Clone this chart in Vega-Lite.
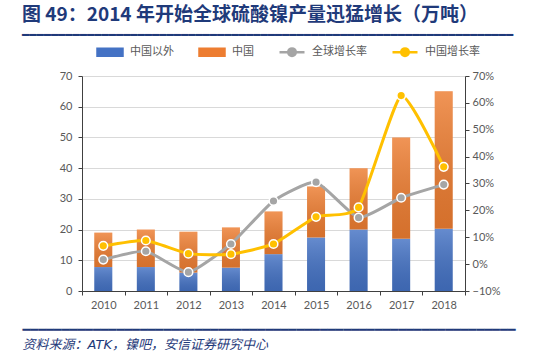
{
  "$schema": "https://vega.github.io/schema/vega-lite/v6.json",
  "width": 383,
  "height": 215,
  "autosize": {"type": "none"},
  "padding": {"left": 82, "top": 76, "right": 85, "bottom": 73},
  "background": "white",
  "config": {
    "view": {"stroke": null},
    "font": "Noto Sans CJK SC",
    "axis": {
      "labelFont": "Lato",
      "labelFontSize": 11,
      "labelColor": "#595959",
      "domainColor": "#404040",
      "tickColor": "#404040",
      "domainWidth": 1,
      "tickSize": 4,
      "labelOverlap": false,
      "labelFlush": false
    }
  },
  "title": {
    "text": "图 49：2014 年开始全球硫酸镍产量迅猛增长（万吨）",
    "subtitle": "━━━━━━━━━━━━━━━━━━━━━━━━━━━━━━━━━━━━━━━━━━━━━━━━━━━━━━━━━━━━━━━━━━━━",
    "anchor": "start",
    "frame": "group",
    "dx": -60,
    "offset": -3,
    "font": "Noto Sans CJK SC",
    "fontSize": 19,
    "fontWeight": "bold",
    "color": "#1F3A7A",
    "subtitleFont": "DejaVu Sans",
    "subtitleFontSize": 12,
    "subtitleColor": "#1F3A7A",
    "subtitlePadding": 5
  },
  "datasets": {
    "bars": [
      {"year": "2010", "series": "中国以外", "value": 7.8},
      {"year": "2010", "series": "中国", "value": 11.2},
      {"year": "2011", "series": "中国以外", "value": 7.8},
      {"year": "2011", "series": "中国", "value": 12.2},
      {"year": "2012", "series": "中国以外", "value": 6.0},
      {"year": "2012", "series": "中国", "value": 13.3},
      {"year": "2013", "series": "中国以外", "value": 7.6},
      {"year": "2013", "series": "中国", "value": 13.1},
      {"year": "2014", "series": "中国以外", "value": 12.0},
      {"year": "2014", "series": "中国", "value": 13.9},
      {"year": "2015", "series": "中国以外", "value": 17.4},
      {"year": "2015", "series": "中国", "value": 16.6},
      {"year": "2016", "series": "中国以外", "value": 20.0},
      {"year": "2016", "series": "中国", "value": 20.0},
      {"year": "2017", "series": "中国以外", "value": 17.0},
      {"year": "2017", "series": "中国", "value": 33.0},
      {"year": "2018", "series": "中国以外", "value": 20.3},
      {"year": "2018", "series": "中国", "value": 44.7}
    ],
    "rates": [
      {"year": "2010", "series": "全球增长率", "rate": 0.017},
      {"year": "2011", "series": "全球增长率", "rate": 0.048},
      {"year": "2012", "series": "全球增长率", "rate": -0.03},
      {"year": "2013", "series": "全球增长率", "rate": 0.075},
      {"year": "2014", "series": "全球增长率", "rate": 0.235},
      {"year": "2015", "series": "全球增长率", "rate": 0.305},
      {"year": "2016", "series": "全球增长率", "rate": 0.173},
      {"year": "2017", "series": "全球增长率", "rate": 0.247},
      {"year": "2018", "series": "全球增长率", "rate": 0.296},
      {"year": "2010", "series": "中国增长率", "rate": 0.068},
      {"year": "2011", "series": "中国增长率", "rate": 0.088},
      {"year": "2012", "series": "中国增长率", "rate": 0.039},
      {"year": "2013", "series": "中国增长率", "rate": 0.037},
      {"year": "2014", "series": "中国增长率", "rate": 0.075},
      {"year": "2015", "series": "中国增长率", "rate": 0.176},
      {"year": "2016", "series": "中国增长率", "rate": 0.211},
      {"year": "2017", "series": "中国增长率", "rate": 0.627},
      {"year": "2018", "series": "中国增长率", "rate": 0.362}
    ]
  },
  "encoding": {
    "x": {
      "field": "year",
      "type": "ordinal",
      "scale": {"paddingInner": 0, "paddingOuter": 0},
      "axis": {
        "labelAngle": 0,
        "tickBand": "extent",
        "labelPadding": 4,
        "title": ["━━━━━━━━━━━━━━━━━━━━━━━━━━━━━━━━━━━━━━━━━━━━━━━━━━━━━━━━━━━━━━━", "资料来源：ATK，镍吧，安信证券研究中心"],
        "titleFont": "DejaVu Sans, Noto Sans CJK SC",
        "titleFontSize": 13,
        "titleFontWeight": "normal",
        "titleFontStyle": "italic",
        "titleColor": "#1F3A7A",
        "titleAnchor": "start",
        "titleAlign": "left",
        "titleBaseline": "top",
        "titleX": -60,
        "titleY": 32,
        "titleLineHeight": 15
      }
    }
  },
  "layer": [
    {
      "data": {"name": "bars"},
      "layer": [
        {
          "mark": {"type": "bar", "size": 18},
          "encoding": {
            "y": {
              "field": "value",
              "type": "quantitative",
              "stack": "zero",
              "scale": {"domain": [0, 70], "nice": false},
              "axis": {
                "title": null,
                "values": [0, 10, 20, 30, 40, 50, 60, 70],
                "grid": true,
                "gridColor": "#D9D9D9",
                "labelPadding": 6,
                "labelOverlap": false,
                "labelBound": false,
                "labelFlush": false,
                "tickCount": 8
              }
            },
            "color": {
              "field": "series",
              "type": "nominal",
              "scale": {
                "domain": ["中国以外", "中国", "全球增长率", "中国增长率"],
                "range": ["#4472C4", "#ED7D31", "#A5A5A5", "#FFC000"]
              },
              "legend": {
                "orient": "none",
                "legendX": 14,
                "legendY": -38,
                "direction": "horizontal",
                "title": null,
                "symbolSize": 625,
                "symbolStrokeWidth": 2.5,
                "labelFont": "Noto Sans CJK SC",
                "labelFontSize": 11,
                "labelColor": "#595959",
                "labelOffset": 6,
                "columnPadding": 20,
                "encode": {
                  "symbols": {
                    "update": {
                      "shape": {"signal": "indexof(['中国以外','中国'], datum.value) >= 0 ? 'M-1,-0.28H1V0.28H-1Z' : 'M-1,0H1M-0.3,0A0.3,0.3,0,1,1,0.3,0A0.3,0.3,0,1,1,-0.3,0Z'"},
                      "fill": {"scale": "color", "field": "value"},
                      "stroke": {"scale": "color", "field": "value"},
                      "opacity": {"value": 1},
                      "fillOpacity": {"value": 1},
                      "strokeOpacity": {"value": 1}
                    }
                  }
                }
              }
            },
            "order": {"field": "series", "sort": "descending"}
          }
        },
        {
          "mark": {
            "type": "bar",
            "size": 18,
            "fill": {
              "gradient": "linear",
              "x1": 0, "y1": 0, "x2": 0, "y2": 1,
              "stops": [
                {"offset": 0, "color": "rgba(255,255,255,0.18)"},
                {"offset": 1, "color": "rgba(0,0,0,0.10)"}
              ]
            }
          },
          "encoding": {
            "y": {"field": "value", "type": "quantitative", "stack": "zero"},
            "detail": {"field": "series"},
            "order": {"field": "series", "sort": "descending"}
          }
        }
      ]
    },
    {
      "data": {"name": "rates"},
      "layer": [
        {
          "mark": {"type": "line", "strokeWidth": 3, "interpolate": "cardinal", "tension": 0.5},
          "encoding": {
            "y": {
              "field": "rate",
              "type": "quantitative",
              "scale": {"domain": [-0.1, 0.7], "nice": false},
              "axis": {
                "orient": "right",
                "title": null,
                "format": ".0%",
                "values": [-0.1, 0, 0.1, 0.2, 0.3, 0.4, 0.5, 0.6, 0.7],
                "grid": false,
                "labelPadding": 3,
                "labelOverlap": false,
                "labelBound": false,
                "labelFlush": false,
                "tickCount": 9
              }
            },
            "color": {"field": "series", "type": "nominal"}
          }
        },
        {
          "mark": {"type": "point", "filled": true, "size": 75, "stroke": "white", "strokeWidth": 1.5, "opacity": 1},
          "encoding": {
            "y": {"field": "rate", "type": "quantitative"},
            "color": {"field": "series", "type": "nominal"}
          }
        }
      ]
    }
  ],
  "resolve": {"scale": {"y": "independent"}}
}
